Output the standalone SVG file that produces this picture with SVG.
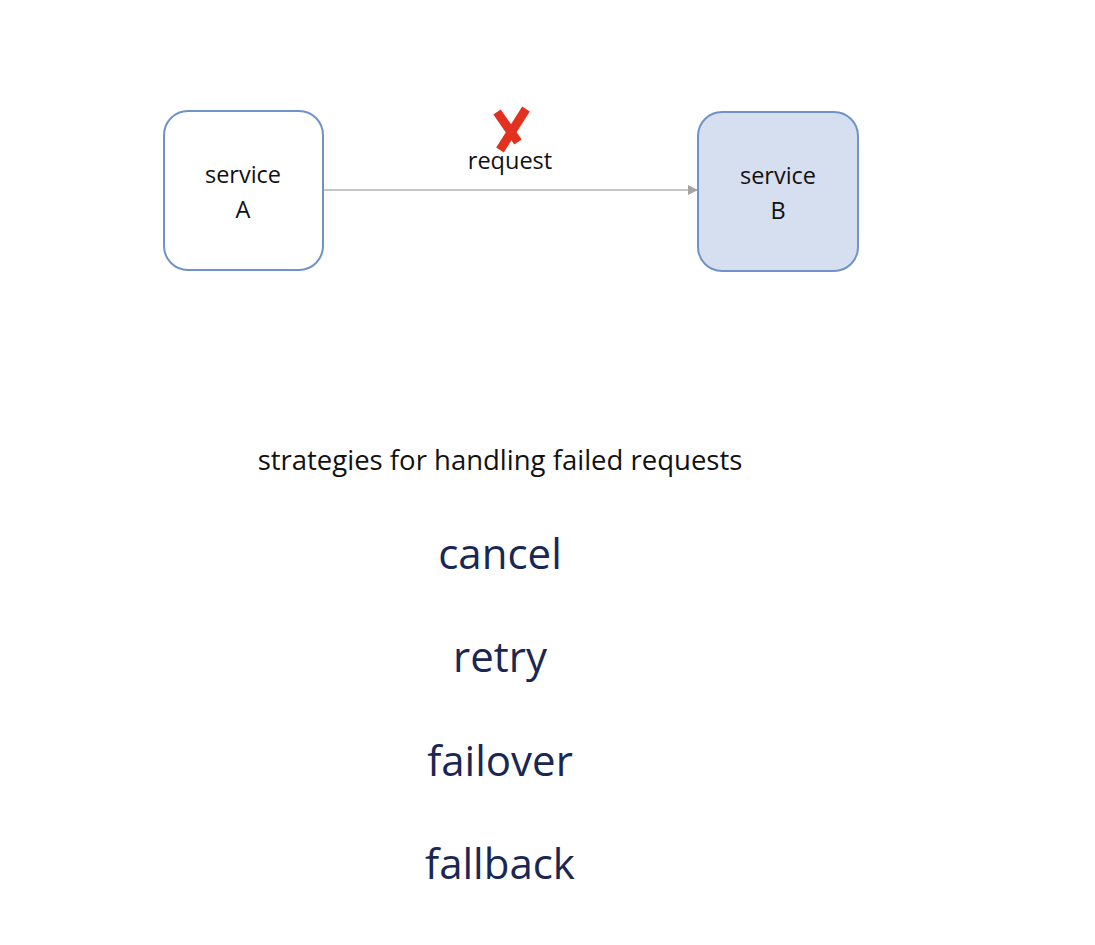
<svg xmlns="http://www.w3.org/2000/svg" width="1095" height="945" viewBox="0 0 1095 945">
<style>
.box{stroke:#6F93C8;stroke-width:2}
.lbl{font-family:"Open Sans","Noto Sans",sans-serif;font-size:23.5px;fill:#111;text-anchor:middle}
.head{font-family:"Open Sans","Noto Sans",sans-serif;font-size:27.5px;fill:#111;text-anchor:middle}
.big{font-family:"Open Sans","Noto Sans",sans-serif;font-size:42px;fill:#1A2754;text-anchor:middle}
</style>
<defs>
<marker id="arr" viewBox="0 0 10 10" refX="10" refY="5" markerWidth="10" markerHeight="10" markerUnits="userSpaceOnUse" orient="auto">
<path d="M0,0 L10,5 L0,10 Z" fill="#A3A3A3"/>
</marker>
</defs>
<rect width="1095" height="945" fill="#fff"/>
<g id="connectors">
<line x1="324" y1="190" x2="698" y2="190" stroke="#B3B3B3" stroke-width="1.5" marker-end="url(#arr)"/>
<text class="lbl" x="510" y="169">request</text>
<g id="x-mark" stroke="#E2321F" stroke-width="9" stroke-linecap="butt" fill="none">
<path d="M497,112 L518,142"/>
<path d="M526,109 L500,150"/>
</g>
</g>
<g id="serviceA">
<rect class="box" x="164" y="111" width="159" height="159" rx="24" fill="#fff"/>
<text class="lbl" x="243" y="183">service</text>
<text class="lbl" x="243" y="218">A</text>
</g>
<g id="serviceB">
<rect class="box" x="698" y="112" width="160" height="159" rx="24" fill="#D6DFEF"/>
<text class="lbl" x="778" y="184">service</text>
<text class="lbl" x="778" y="219">B</text>
</g>
<g id="strategies">
<text class="head" x="500" y="470">strategies for handling failed requests</text>
<text class="big" x="500" y="569">cancel</text>
<text class="big" x="500" y="672">retry</text>
<text class="big" x="500" y="776">failover</text>
<text class="big" x="500" y="879">fallback</text>
</g>
</svg>
